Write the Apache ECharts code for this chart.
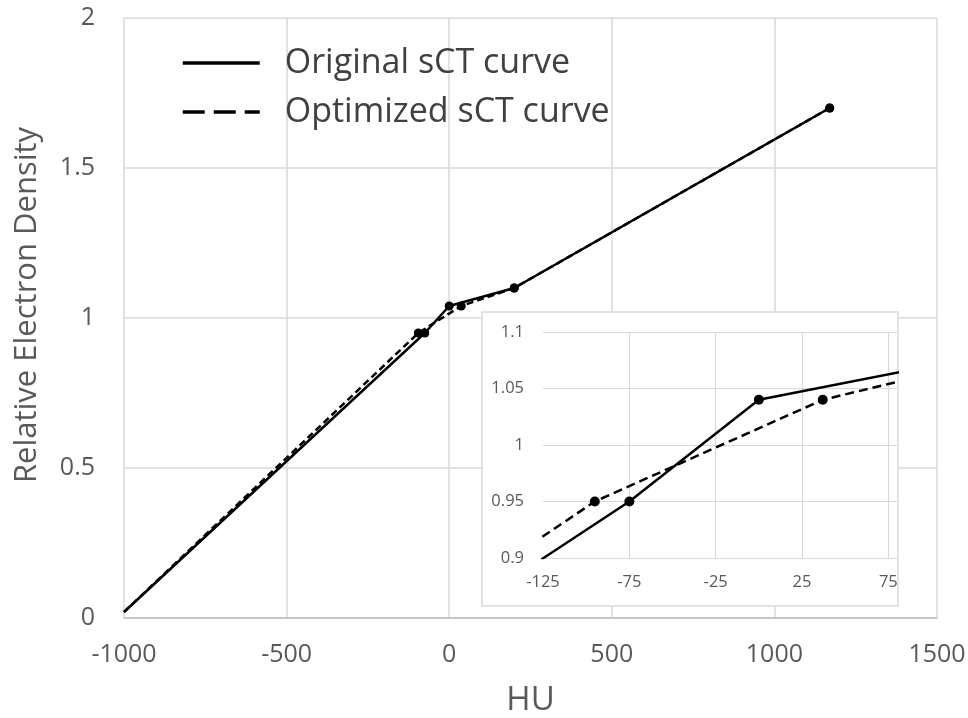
<!DOCTYPE html>
<html>
<head>
<meta charset="utf-8">
<script src="https://cdn.jsdelivr.net/npm/echarts@6/dist/echarts.min.js"></script>
<style>
html,body{margin:0;padding:0;background:#fff;}
#chart{width:968px;height:718px;}
</style>
</head>
<body>
<div id="chart"></div>
<script>
// Data
var seriesNames = ['Original sCT curve', 'Optimized sCT curve'];
var originalHU = [-1000, -75, 0, 200, 1170];
var originalRED = [0.02, 0.95, 1.04, 1.1, 1.7];
var optimizedHU = [-1000, -95, 37, 200, 1170];
var optimizedRED = [0.02, 0.95, 1.04, 1.1, 1.7];

function pairs(xs, ys) { return xs.map(function (x, i) { return [x, ys[i]]; }); }
var origData = pairs(originalHU, originalRED);
var optData = pairs(optimizedHU, optimizedRED);

var FONT = 'Open Sans';
var TXT = '#595959';
var GRID = '#d9d9d9';

function markerSize(size) {
  return function (val, p) { return p.dataIndex === 0 ? 0 : size; };
}
function plain(v) { return String(v); }

var chart = echarts.init(document.getElementById('chart'), null, {renderer: 'canvas'});
chart.setOption({
  animation: false,
  backgroundColor: '#fff',
  textStyle: {fontFamily: FONT},
  legend: {
    orient: 'vertical',
    left: 176,
    top: 41,
    itemWidth: 77,
    itemHeight: 14,
    itemGap: 15,
    selectedMode: false,
    itemStyle: {opacity: 0},
    textStyle: {fontFamily: FONT, fontSize: 34, color: '#404040', padding: [0, 0, 0, 20]},
    data: [
      {name: seriesNames[0], lineStyle: {width: 3.5, type: 'solid', color: '#000'}},
      {name: seriesNames[1], lineStyle: {width: 3.5, type: [22, 9], color: '#000'}}
    ]
  },
  grid: [
    {left: 124, right: 31, top: 18, bottom: 100, containLabel: false, outerBoundsMode: 'none'},
    {left: 543, right: 71, top: 332, bottom: 160, containLabel: false, outerBoundsMode: 'none'}
  ],
  graphic: {
    elements: [{
      type: 'rect',
      z: 100,
      shape: {x: 482, y: 312, width: 416, height: 294},
      style: {fill: '#fff', stroke: GRID, lineWidth: 1.5}
    }]
  },
  xAxis: [
    {
      gridIndex: 0, type: 'value', min: -1000, max: 1500, interval: 500,
      name: 'HU', nameLocation: 'middle', nameGap: 66,
      nameTextStyle: {fontSize: 33, color: TXT, fontFamily: FONT},
      axisLine: {show: true, lineStyle: {color: '#bfbfbf', width: 1.5}},
      axisTick: {show: false},
      axisLabel: {fontSize: 25, color: TXT, margin: 24, fontFamily: FONT, formatter: plain},
      splitLine: {show: true, lineStyle: {color: GRID, width: 1.5}}
    },
    {
      gridIndex: 1, type: 'value', min: -125, max: 80, interval: 50, z: 150,
      axisLine: {show: false},
      axisTick: {show: false},
      axisLabel: {fontSize: 16.5, color: TXT, margin: 16, showMaxLabel: false, fontFamily: FONT, formatter: plain},
      splitLine: {show: true, showMinLine: false, showMaxLine: false, lineStyle: {color: GRID, width: 1.2}}
    }
  ],
  yAxis: [
    {
      gridIndex: 0, type: 'value', min: 0, max: 2, interval: 0.5,
      name: 'Relative Electron Density', nameLocation: 'middle', nameGap: 81,
      nameTextStyle: {fontSize: 31, color: TXT, fontFamily: FONT, padding: [0, 0, 0, 26]},
      axisLine: {show: false},
      axisTick: {show: false},
      axisLabel: {fontSize: 25, color: TXT, margin: 29, fontFamily: FONT},
      splitLine: {show: true, lineStyle: {color: GRID, width: 1.5}}
    },
    {
      gridIndex: 1, type: 'value', min: 0.9, max: 1.1, interval: 0.05, z: 150,
      axisLine: {show: false},
      axisTick: {show: false},
      axisLabel: {fontSize: 16.5, color: TXT, margin: 19, fontFamily: FONT},
      splitLine: {show: true, lineStyle: {color: GRID, width: 1.2}}
    }
  ],
  series: [
    {
      name: seriesNames[0], type: 'line', xAxisIndex: 0, yAxisIndex: 0,
      data: origData, symbol: 'circle', symbolSize: markerSize(9), showAllSymbol: true,
      lineStyle: {color: '#000', width: 2.5, type: 'solid'},
      itemStyle: {color: '#000'}, z: 3
    },
    {
      name: seriesNames[1], type: 'line', xAxisIndex: 0, yAxisIndex: 0,
      data: optData, symbol: 'circle', symbolSize: markerSize(9), showAllSymbol: true,
      lineStyle: {color: '#000', width: 2.5, type: [7, 4]},
      itemStyle: {color: '#000'}, z: 2
    },
    {
      name: seriesNames[0], type: 'line', xAxisIndex: 1, yAxisIndex: 1,
      data: origData, symbol: 'circle', symbolSize: markerSize(10), showAllSymbol: true,
      lineStyle: {color: '#000', width: 2.5, type: 'solid'},
      itemStyle: {color: '#000'}, z: 200, clip: true
    },
    {
      name: seriesNames[1], type: 'line', xAxisIndex: 1, yAxisIndex: 1,
      data: optData, symbol: 'circle', symbolSize: markerSize(10), showAllSymbol: true,
      lineStyle: {color: '#000', width: 2.5, type: [9, 5]},
      itemStyle: {color: '#000'}, z: 200, clip: true
    }
  ]
});
</script>
</body>
</html>
